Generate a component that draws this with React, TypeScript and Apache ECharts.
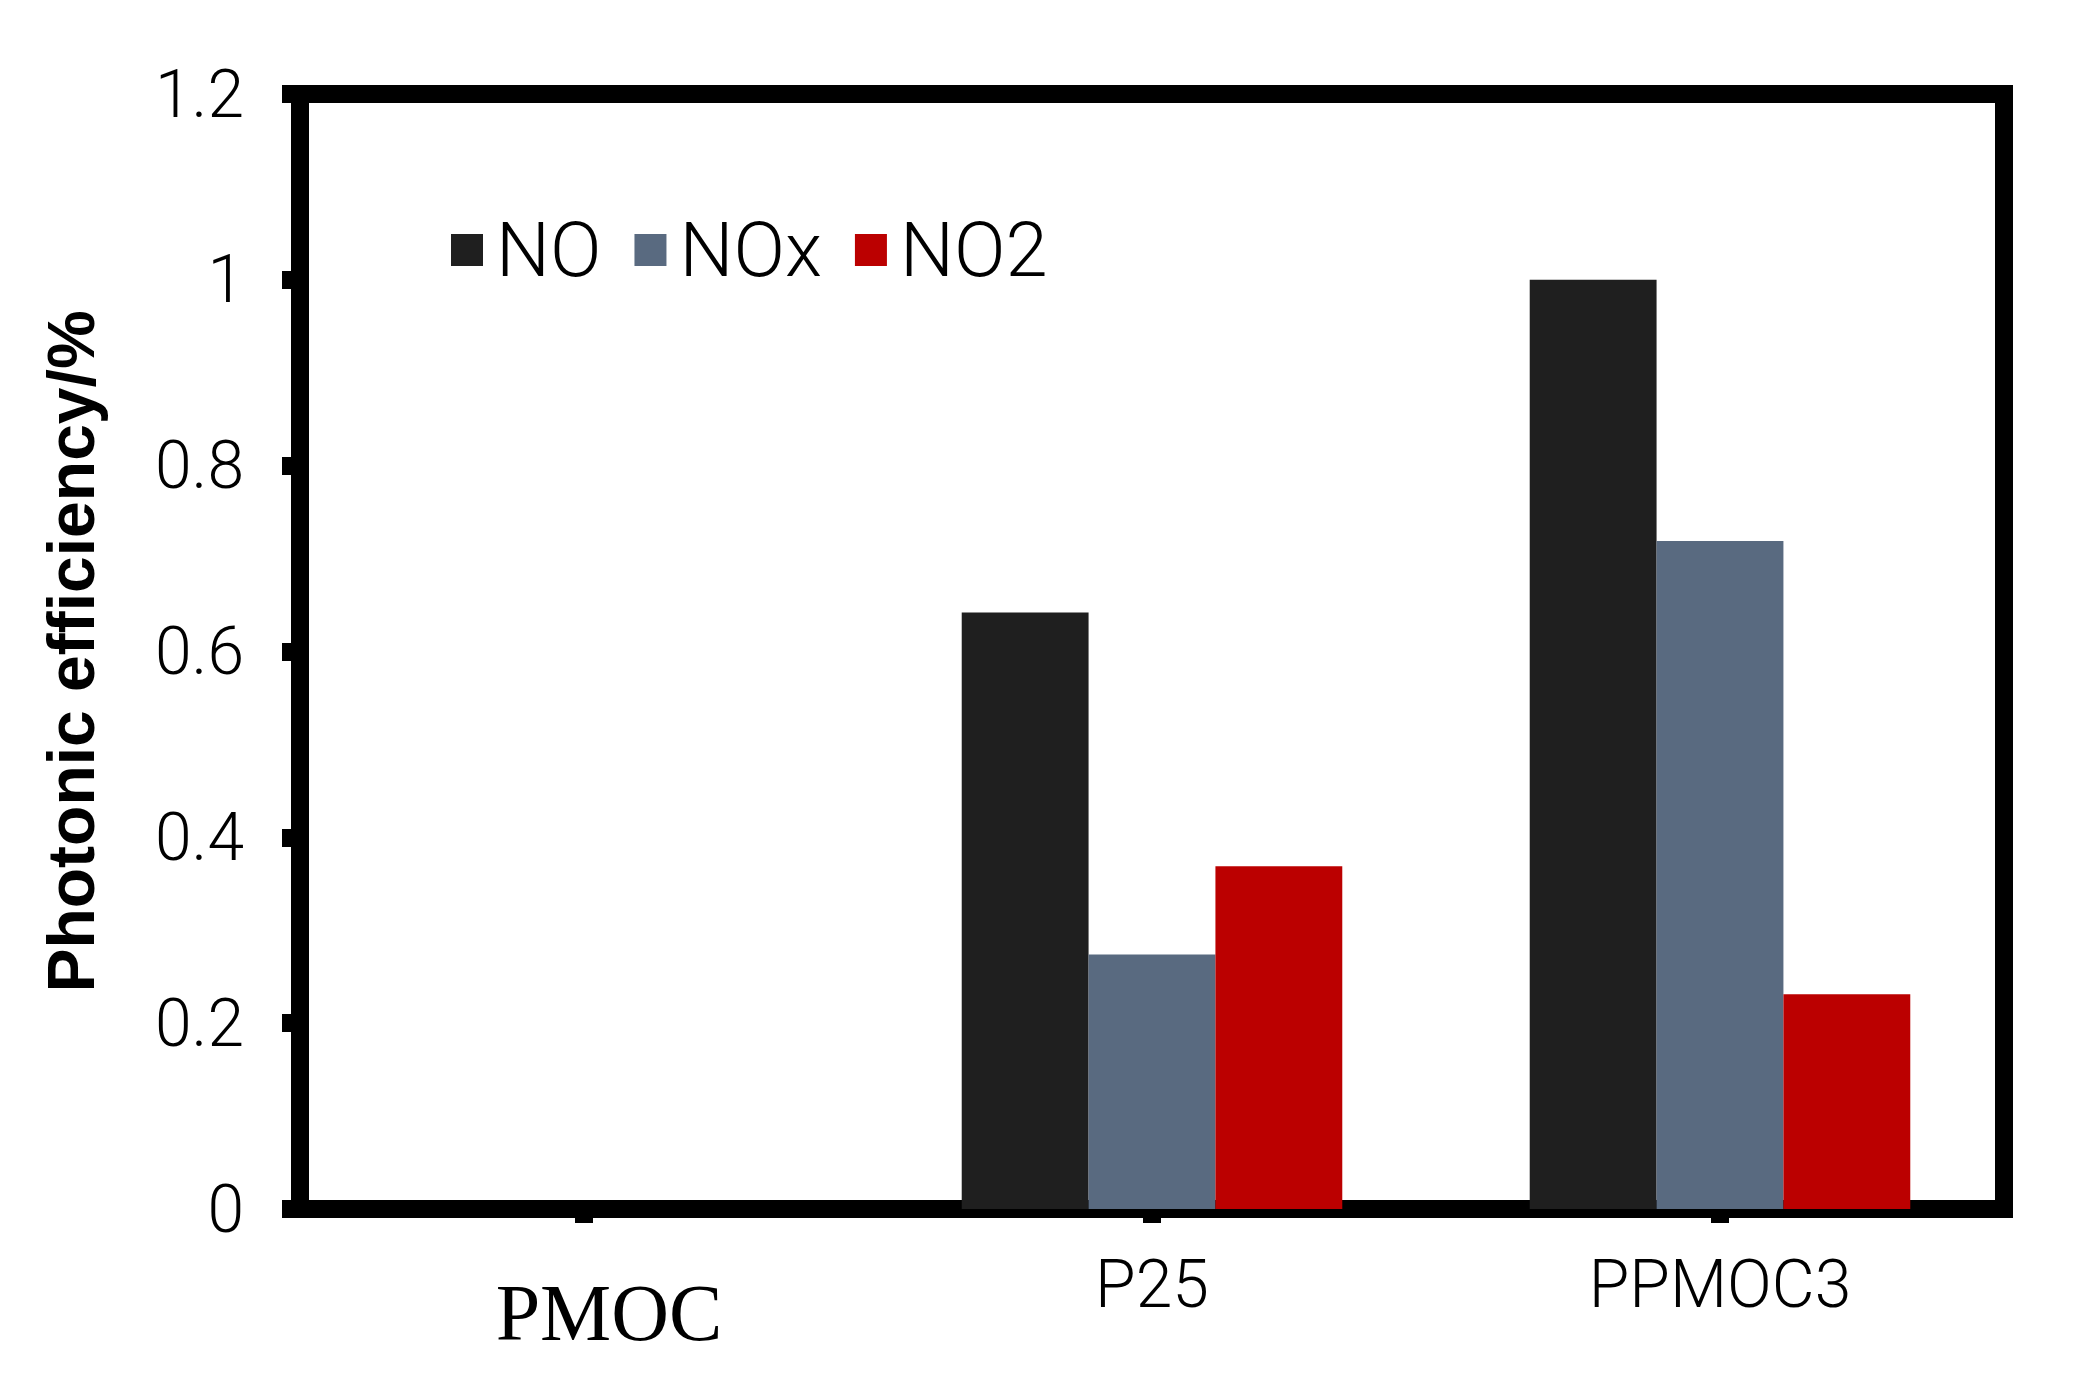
import React, { useEffect, useRef } from "react";
import * as echarts from "echarts";

const categories = ["PMOC", "P25", "PPMOC3"];
const seriesNames = ["NO", "NOx", "NO2"];
const noValues = [0, 0.642, 1.0];
const noxValues = [0, 0.274, 0.719];
const no2Values = [0, 0.369, 0.231];
const colors = ["#1f1f1f", "#596a80", "#bb0000"];

const LIGHT = "Roboto, 'Open Sans', sans-serif";

export default function App() {
  const ref = useRef<HTMLDivElement>(null);
  useEffect(() => {
    document.body.style.margin = "0";
    if (!ref.current) return;
    const chart = echarts.init(ref.current, null, { renderer: "svg" });
    const values = [noValues, noxValues, no2Values];
    chart.setOption({
      animation: false,
      backgroundColor: "#ffffff",
      grid: {
        left: 300,
        right: 86,
        top: 94,
        bottom: 181,
        show: true,
        borderColor: "#000",
        borderWidth: 18,
      },
      legend: {
        left: 446,
        top: 207,
        itemWidth: 32,
        itemHeight: 32,
        itemGap: 33,
        icon: "rect",
        data: seriesNames,
        textStyle: {
          fontFamily: LIGHT,
          fontWeight: 300,
          fontSize: 76,
          color: "#000",
          padding: [0, 0, 0, 8],
        },
      },
      xAxis: {
        type: "category",
        data: categories.map((c, i) =>
          i === 0
            ? {
                value: c,
                textStyle: {
                  fontFamily: "'Liberation Serif', 'Times New Roman', serif",
                  fontWeight: "normal",
                  fontSize: 80,
                  padding: [22, 0, 0, 50],
                },
              }
            : c
        ),
        axisLine: { show: true, lineStyle: { color: "#000", width: 18 } },
        axisTick: {
          show: true,
          alignWithLabel: true,
          length: 14,
          lineStyle: { color: "#000", width: 18 },
        },
        axisLabel: {
          margin: 42,
          fontFamily: LIGHT,
          fontWeight: 300,
          fontSize: 66,
          color: "#000",
        },
        splitLine: { show: false },
      },
      yAxis: {
        type: "value",
        min: 0,
        max: 1.2,
        interval: 0.2,
        name: "Photonic efficiency/%",
        nameLocation: "middle",
        nameGap: 196,
        nameTextStyle: {
          fontFamily: "'Liberation Sans', Arial, sans-serif",
          fontWeight: "bold",
          fontSize: 66,
          color: "#000",
        },
        axisLine: { show: true, lineStyle: { color: "#000", width: 18 } },
        axisTick: { show: true, length: 18, lineStyle: { color: "#000", width: 18 } },
        axisLabel: {
          margin: 56,
          fontFamily: LIGHT,
          fontWeight: 300,
          fontSize: 66,
          color: "#000",
        },
        splitLine: { show: false },
      },
      series: seriesNames.map((name, i) => ({
        name,
        type: "bar",
        data: values[i],
        itemStyle: { color: colors[i] },
        barGap: "0%",
        barCategoryGap: "33%",
        z: 1,
      })),
    });
    return () => chart.dispose();
  }, []);
  return <div ref={ref} style={{ width: 2090, height: 1390 }} />;
}
